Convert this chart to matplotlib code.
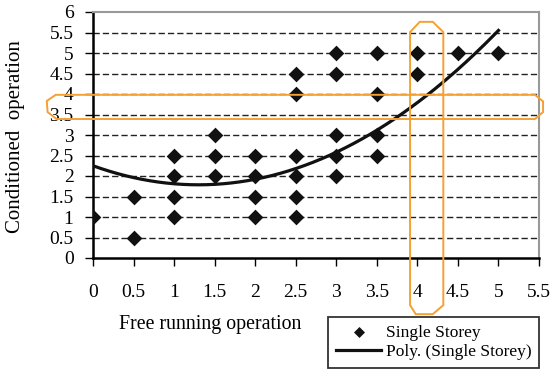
import numpy as np
import matplotlib
matplotlib.use("Agg")
import matplotlib.pyplot as plt
from matplotlib.patches import Polygon

plt.rcParams['font.family'] = ['Liberation Serif', 'DejaVu Serif']

# Single storey responses: free running score (x) vs conditioned score (y)
free_running = [0, 0.5, 0.5, 1, 1, 1, 1, 1.5, 1.5, 1.5, 2, 2, 2, 2,
                2.5, 2.5, 2.5, 2.5, 2.5, 2.5, 3, 3, 3, 3, 3,
                3.5, 3.5, 3.5, 3.5, 4, 4, 4.5, 5]
conditioned = [1, 1.5, 0.5, 2.5, 2, 1.5, 1, 3, 2.5, 2, 2.5, 2, 1.5, 1,
               4.5, 4, 2.5, 2, 1.5, 1, 5, 4.5, 3, 2.5, 2,
               5, 4, 3, 2.5, 5, 4.5, 5, 5]

# Second-order polynomial trendline coefficients (highest power first)
poly_coef = [0.275, -0.715, 2.25]
trend_range = [0, 5]

x_ticks = [0, 0.5, 1, 1.5, 2, 2.5, 3, 3.5, 4, 4.5, 5, 5.5]
y_ticks = [0, 0.5, 1, 1.5, 2, 2.5, 3, 3.5, 4, 4.5, 5, 5.5, 6]
x_tick_labels = ['0', '0.5', '1', '1.5', '2', '2.5', '3', '3.5', '4', '4.5', '5', '5.5']
y_tick_labels = ['0', '0.5', '1', '1.5', '2', '2.5', '3', '3.5', '4', '4.5', '5', '5.5', '6']

W, H = 553, 369
fig = plt.figure(figsize=(W / 100, H / 100), dpi=100)
ax = fig.add_axes([93 / W, 1 - 258 / H, (539 - 93) / W, (258 - 12) / H])

ax.set_xlim(0, 5.5)
ax.set_ylim(0, 6)

# dashed horizontal gridlines
for yv in y_ticks[1:-1]:
    ax.axhline(yv, color='#222222', lw=1.0, ls=(0, (4.5, 2.2)), zorder=1)

xs = np.linspace(trend_range[0], trend_range[1], 200)
ax.plot(xs, np.polyval(poly_coef, xs), color='#111111', lw=2.3, zorder=3,
        label='Poly. (Single Storey)')
ax.scatter(free_running, conditioned, marker='D', s=64, color='#111111',
           zorder=4, label='Single Storey', linewidths=0)

ax.set_xticks(x_ticks)
ax.set_xticklabels(x_tick_labels)
ax.set_yticks(y_ticks)
ax.set_yticklabels(y_tick_labels)
ax.tick_params(axis='x', direction='out', length=6, width=1, pad=13, labelsize=14)
ax.tick_params(axis='y', direction='out', length=6, width=1, pad=8, labelsize=14)

for side in ['top', 'right']:
    ax.spines[side].set_color('#999999')
    ax.spines[side].set_linewidth(1.5)
for side in ['left', 'bottom']:
    ax.spines[side].set_color('black')
    ax.spines[side].set_linewidth(1.8)

fig.text(16 / W, 1 - 137 / H, 'Conditioned  operation', fontsize=15,
         rotation=90, ha='center', va='center')
fig.text(210 / W, 1 - 324 / H, 'Free running operation', fontsize=14.3,
         ha='center', va='center')

# orange highlight outlines
orange = '#F5A033'
h_band = [(-0.46, 3.98), (5.45, 3.98), (5.55, 3.82), (5.55, 3.56), (5.45, 3.39),
          (-0.45, 3.39), (-0.56, 3.56), (-0.57, 3.83)]
v_band = [(4.03, 5.76), (4.19, 5.76), (4.32, 5.51), (4.32, -1.15), (4.19, -1.37),
          (3.98, -1.37), (3.91, -1.15), (3.91, 5.51)]
for pts in (h_band, v_band):
    ax.add_patch(Polygon(pts, closed=True, fill=False, edgecolor=orange,
                         lw=1.4, clip_on=False, zorder=5))

handles, labels = ax.get_legend_handles_labels()
leg = fig.legend(handles[::-1], labels[::-1], loc='lower right',
                 bbox_to_anchor=(539 / W, 1 - 368 / H), fontsize=12.5,
                 frameon=True, fancybox=False, edgecolor='black',
                 handlelength=2.6, handletextpad=0.25, borderpad=0.45,
                 labelspacing=0.2, borderaxespad=0, scatterpoints=1,
                 markerscale=0.7)
leg.get_frame().set_linewidth(1.3)

fig.savefig('out.png', dpi=100)
